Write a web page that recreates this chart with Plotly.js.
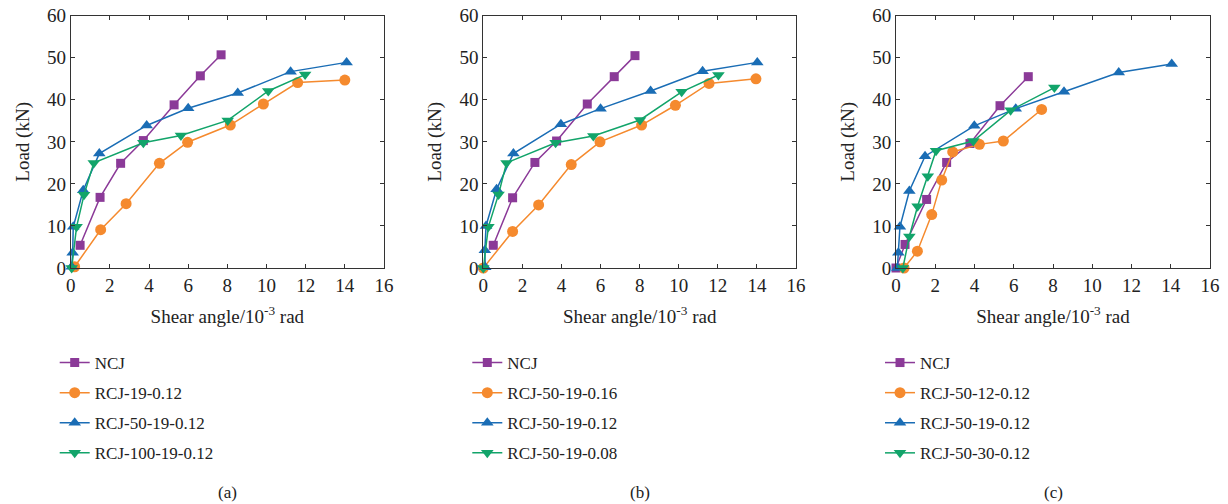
<!DOCTYPE html>
<html>
<head>
<meta charset="utf-8">
<script src="https://cdn.plot.ly/plotly-3.0.1.min.js"></script>
<style>html,body{margin:0;padding:0;background:#fff;}#chart{width:1228px;height:504px;}</style>
</head>
<body>
<div id="chart"></div>
<script>
// Panel (a)
const a_ncj_x = [0.48, 1.5, 2.55, 3.71, 5.28, 6.62, 7.68];
const a_ncj_y = [5.4, 16.8, 24.9, 30.3, 38.8, 45.7, 50.7];
const a_rcj19_x = [0.2, 1.53, 2.83, 4.53, 5.97, 8.15, 9.84, 11.59, 14.0];
const a_rcj19_y = [0.3, 9.1, 15.3, 24.9, 29.9, 34.0, 39.0, 44.1, 44.7];
const a_rcj50_x = [0.05, 0.1, 0.13, 0.64, 1.46, 3.88, 6.0, 8.53, 11.23, 14.09];
const a_rcj50_y = [0.3, 3.6, 9.8, 18.5, 27.2, 33.9, 38.0, 41.6, 46.7, 48.9];
const a_rcj100_x = [0.05, 0.3, 0.68, 1.18, 3.71, 5.63, 8.02, 10.09, 11.97];
const a_rcj100_y = [0.0, 9.8, 17.4, 25.0, 29.8, 31.5, 35.1, 42.1, 46.0];
// Panel (b)
const b_ncj_x = [0.51, 1.5, 2.64, 3.75, 5.32, 6.7, 7.76];
const b_ncj_y = [5.4, 16.7, 25.1, 30.2, 39.0, 45.5, 50.5];
const b_016_x = [0.0, 1.5, 2.83, 4.5, 5.97, 8.1, 9.83, 11.55, 13.95];
const b_016_y = [0.0, 8.7, 15.0, 24.6, 30.0, 34.0, 38.7, 43.9, 45.0];
const b_012_x = [0.1, 0.08, 0.14, 0.68, 1.54, 3.97, 6.0, 8.56, 11.22, 14.02];
const b_012_y = [0.2, 4.2, 10.0, 18.7, 27.2, 34.2, 37.9, 42.1, 46.8, 48.9];
const b_008_x = [0.0, 0.26, 0.78, 1.19, 3.7, 5.63, 8.02, 10.15, 12.03];
const b_008_y = [0.0, 9.8, 17.5, 25.0, 29.8, 31.4, 35.2, 41.9, 45.9];
// Panel (c)
const c_ncj_x = [0.0, 0.46, 1.56, 2.58, 3.77, 5.3, 6.74];
const c_ncj_y = [0.0, 5.6, 16.3, 25.1, 29.6, 38.6, 45.5];
const c_12_x = [0.41, 1.09, 1.82, 2.33, 2.89, 4.25, 5.47, 7.42];
const c_12_y = [0.0, 4.0, 12.7, 20.9, 27.6, 29.4, 30.2, 37.7];
const c_19_x = [0.07, 0.12, 0.2, 0.68, 1.48, 3.99, 6.1, 8.56, 11.35, 14.05];
const c_19_y = [0.0, 3.6, 9.8, 18.3, 26.6, 33.8, 37.9, 41.9, 46.5, 48.5];
const c_30_x = [0.35, 0.68, 1.1, 1.62, 2.04, 3.94, 5.84, 8.07];
const c_30_y = [0.0, 7.5, 14.7, 21.8, 27.9, 30.2, 37.5, 42.9];

const names_a = ['NCJ', 'RCJ-19-0.12', 'RCJ-50-19-0.12', 'RCJ-100-19-0.12'];
const names_b = ['NCJ', 'RCJ-50-19-0.16', 'RCJ-50-19-0.12', 'RCJ-50-19-0.08'];
const names_c = ['NCJ', 'RCJ-50-12-0.12', 'RCJ-50-19-0.12', 'RCJ-50-30-0.12'];
const panel_labels = ['(a)', '(b)', '(c)'];

const colors = ['#8B3A98', '#F58A2E', '#1A6DB5', '#12A46A'];
const symbols = ['square', 'circle', 'triangle-up', 'triangle-down'];
const msizes = [9, 11, 11, 11];

const panels = [
  {xs: [a_ncj_x, a_rcj19_x, a_rcj50_x, a_rcj100_x], ys: [a_ncj_y, a_rcj19_y, a_rcj50_y, a_rcj100_y], names: names_a},
  {xs: [b_ncj_x, b_016_x, b_012_x, b_008_x], ys: [b_ncj_y, b_016_y, b_012_y, b_008_y], names: names_b},
  {xs: [c_ncj_x, c_12_x, c_19_x, c_30_x], ys: [c_ncj_y, c_12_y, c_19_y, c_30_y], names: names_c}
];

const W = 1228, H = 504;
const xDom = [[70.7, 384], [483.3, 796], [896, 1210]];
const yDom = [(H - 268) / H, (H - 15.7) / H];
const serif = 'Liberation Serif, Times New Roman, serif';

const traces = [];
panels.forEach((p, pi) => {
  const sfx = pi === 0 ? '' : String(pi + 1);
  for (let i = 0; i < 4; i++) {
    traces.push({
      x: p.xs[i], y: p.ys[i], name: p.names[i],
      type: 'scatter', mode: 'lines+markers',
      xaxis: 'x' + sfx, yaxis: 'y' + sfx,
      legend: 'legend' + sfx, legendgroup: 'g' + pi + '_' + i,
      line: {color: colors[i], width: 1.5},
      marker: {color: colors[i], symbol: symbols[i], size: msizes[i]},
      cliponaxis: false
    });
  }
});

const layout = {
  width: W, height: H,
  margin: {l: 0, r: 0, t: 0, b: 0},
  paper_bgcolor: '#fff', plot_bgcolor: '#fff',
  font: {family: serif, size: 17, color: '#222'},
  showlegend: true,
  annotations: []
};

panels.forEach((p, pi) => {
  const sfx = pi === 0 ? '' : String(pi + 1);
  const axCommon = {
    showline: true, mirror: 'ticks', linecolor: '#333', linewidth: 1,
    ticks: 'inside', ticklen: 4, tickcolor: '#333', showgrid: false, zeroline: false,
    tickfont: {family: serif, size: 19, color: '#222'}
  };
  layout['xaxis' + sfx] = Object.assign({}, axCommon, {
    domain: [xDom[pi][0] / W, xDom[pi][1] / W], range: [0, 16], dtick: 2,
    anchor: 'y' + sfx,
    title: {text: 'Shear angle/10<sup>-3</sup> rad', font: {family: serif, size: 19, color: '#222'}, standoff: 14}
  });
  layout['yaxis' + sfx] = Object.assign({}, axCommon, {
    domain: yDom, range: [0, 60], dtick: 10,
    anchor: 'x' + sfx,
    title: {text: 'Load (kN)', font: {family: serif, size: 19, color: '#222'}, standoff: 12}
  });
  layout['legend' + sfx] = {
    x: (xDom[pi][0] - 16) / W, y: (H - 345) / H, xanchor: 'left', yanchor: 'top',
    bgcolor: 'rgba(0,0,0,0)', font: {family: serif, size: 17, color: '#222'},
    tracegroupgap: 5, itemwidth: 30
  };
  layout.annotations.push({
    text: panel_labels[pi], xref: 'paper', yref: 'paper',
    x: (xDom[pi][0] + xDom[pi][1]) / 2 / W - 0.0, y: (H - 492) / H,
    xanchor: 'center', yanchor: 'middle', showarrow: false,
    font: {family: serif, size: 17, color: '#222'}
  });
});

Plotly.newPlot('chart', traces, layout, {displayModeBar: false, staticPlot: true});
</script>
</body>
</html>
